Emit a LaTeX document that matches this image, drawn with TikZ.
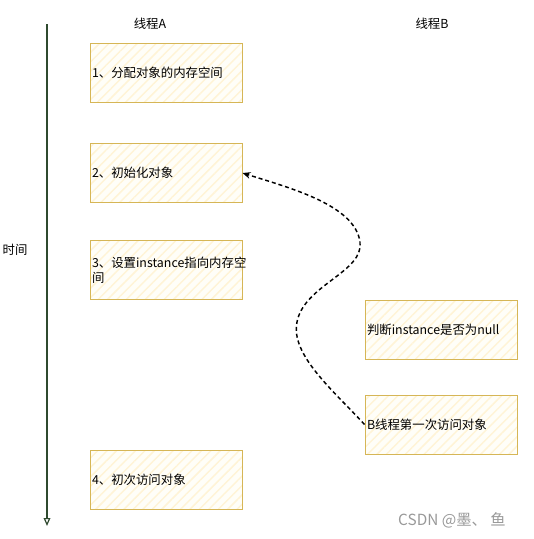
\documentclass[tikz,border=0pt]{standalone}
\usepackage{fontspec}
\setmainfont{Noto Sans CJK SC}
\usetikzlibrary{arrows.meta, patterns.meta}

\definecolor{boxline}{HTML}{D6B656}
\definecolor{boxfill}{HTML}{FFFEF8}
\definecolor{boxhatch}{HTML}{FFF4D6}
\definecolor{timeline}{HTML}{2F4A2F}

\begin{document}
\begin{tikzpicture}[
x=0.75pt, y=-0.75pt,
font=\fontsize{9.3pt}{11.25pt}\selectfont,
stepbox/.style={draw=boxline, line width=0.75pt,
  preaction={fill=boxfill},
  pattern={Lines[angle=45, distance=5pt, line width=1.1pt]}, pattern color=boxhatch,
  minimum width=114pt, minimum height=44.25pt, text width=111pt,
  inner sep=1.5pt, align=left},
title/.style={inner sep=0pt}
]
\useasboundingbox (0,0) rectangle (534,539);

% Titles
\node[title] (threadA) at (150,24) {线程A};
\node[title] (threadB) at (432,24) {线程B};

% Time axis
\coordinate (tstart) at (47,24);
\coordinate (tend) at (47,526);
\draw[timeline, line width=0.9pt, -{Triangle[open, length=6pt, width=5pt]}] (tstart) -- (tend);
\node[title] (time) at (15,250) {时间};

% Thread A
\node[stepbox] (a1) at (166,72.5) {1、分配对象的内存空间};
\node[stepbox] (a2) at (166,173) {2、初始化对象};
\node[stepbox] (a3) at (166,270) {3、设置instance指向内存空\\间};
\node[stepbox] (a4) at (166,480) {4、初次访问对象};

% Thread B
\node[stepbox] (b1) at (441,329.5) {判断instance是否为null};
\node[stepbox] (b2) at (441,424.5) {B线程第一次访问对象};

% Arrow
\draw[dash pattern=on 3pt off 2.2pt, line width=1.1pt, -{Stealth[length=6pt, width=5pt]}]
  (b2.west) .. controls (335,392) and (290,355) .. (297,322)
  .. controls (304,285) and (364,272) .. (360,242)
  .. controls (355,205) and (290,188) .. (a2.east);

% Watermark
\node[title, text=black!40, font=\fontsize{11.5pt}{13pt}\selectfont] (mark) at (452,520) {CSDN @墨、 鱼};
\end{tikzpicture}
\end{document}
